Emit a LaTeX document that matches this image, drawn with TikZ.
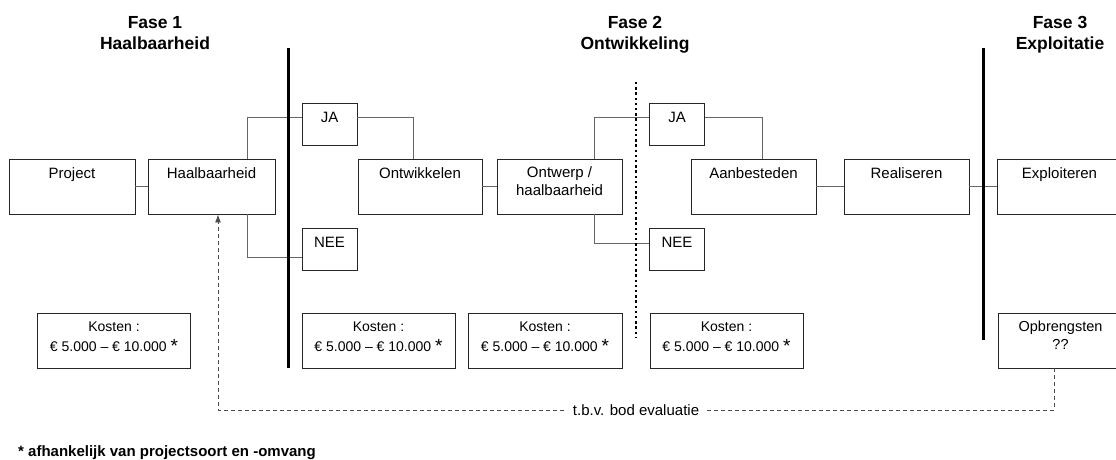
\documentclass[tikz,border=0pt]{standalone}
\usepackage{fontspec}
\setmainfont{Liberation Sans}
\usetikzlibrary{arrows.meta}
\newcommand{\bigast}{{\fontsize{19}{19}\selectfont\raisebox{-1pt}{*}}}
\tikzset{
  box/.style={draw=black!85, line width=0.9pt, minimum height=55pt, inner sep=0pt},
  smallbox/.style={draw=black!85, line width=0.9pt, minimum width=55pt, minimum height=42pt, inner sep=0pt},
  btext/.style={anchor=north, inner sep=0pt, align=center, font=\fontsize{15}{18}\selectfont},
  ktext/.style={anchor=north, inner sep=0pt, align=center, font=\fontsize{14}{20}\selectfont},
  ttl/.style={anchor=north, inner sep=0pt, align=center, font=\bfseries\fontsize{17.5}{21}\selectfont},
  conn/.style={draw=black!60, line width=0.9pt},
  phase/.style={line width=3pt, black},
  eval/.style={draw=black!70, line width=0.9pt, dash pattern=on 4pt off 3pt},
}
\begin{document}
\begin{tikzpicture}[x=1pt,y=-1pt]
\useasboundingbox (0,0) rectangle (1116,460);
\clip (0,0) rectangle (1116,460);
\fill[white] (0,0) rectangle (1116,460);

% titles
\node[ttl] (t1) at (155,13.3) {\strut Fase 1\\Haalbaarheid};
\node[ttl] (t2) at (635,13.3) {\strut Fase 2\\Ontwikkeling};
\node[ttl] (t3) at (1060,13.3) {\strut Fase 3\\Exploitatie};

% phase lines
\coordinate (p1a) at (288,48); \coordinate (p1b) at (288,368);
\coordinate (p2a) at (983,48); \coordinate (p2b) at (983,340);
\coordinate (dta) at (636,82); \coordinate (dtb) at (636,338);

% main boxes
\node[box, minimum width=126pt] (proj) at (72,186.5) {};
\node[box, minimum width=127pt] (haal) at (211.5,186.5) {};
\node[smallbox] (ja1) at (329.5,124) {};
\node[smallbox] (nee1) at (329.5,249) {};
\node[box, minimum width=124pt] (ontw) at (420,186.5) {};
\node[box, minimum width=125pt] (ontp) at (559.5,186.5) {};
\node[smallbox] (ja2) at (677,124) {};
\node[smallbox] (nee2) at (677,249) {};
\node[box, minimum width=125pt] (aanb) at (753.5,186.5) {};
\node[box, minimum width=125pt] (real) at (906.5,186.5) {};
\node[box, minimum width=125pt] (expl) at (1059.5,186.5) {};

% kosten boxes
\node[box, minimum width=153pt] (k1) at (114,340.5) {};
\node[box, minimum width=153pt] (k2) at (378.5,340.5) {};
\node[box, minimum width=154pt] (k3) at (545,340.5) {};
\node[box, minimum width=153pt] (k4) at (726.5,340.5) {};
\node[box, minimum width=125pt] (opb) at (1060.5,340.5) {};

% texts
\node[btext] (projt) at ([yshift=-7.4pt]proj.north) {\strut Project};
\node[btext] (haalt) at ([yshift=-7.4pt]haal.north) {\strut Haalbaarheid};
\node[btext] (ja1t) at ([yshift=-7.4pt]ja1.north) {\strut JA};
\node[btext] (nee1t) at ([yshift=-7.4pt]nee1.north) {\strut NEE};
\node[btext] (ontwt) at ([yshift=-7.4pt]ontw.north) {\strut Ontwikkelen};
\node[btext] (ontpt) at ([yshift=-6.4pt]ontp.north) {\strut Ontwerp /\\haalbaarheid};
\node[btext] (ja2t) at ([yshift=-7.4pt]ja2.north) {\strut JA};
\node[btext] (nee2t) at ([yshift=-7.4pt]nee2.north) {\strut NEE};
\node[btext] (aanbt) at ([yshift=-7.4pt]aanb.north) {\strut Aanbesteden};
\node[btext] (realt) at ([yshift=-7.4pt]real.north) {\strut Realiseren};
\node[btext] (explt) at ([yshift=-7.4pt]expl.north) {\strut Exploiteren};

\node[ktext] (k1t) at ([yshift=-5pt]k1.north) {\strut Kosten :\\€ 5.000 – € 10.000 \bigast};
\node[ktext] (k2t) at ([yshift=-5pt]k2.north) {\strut Kosten :\\€ 5.000 – € 10.000 \bigast};
\node[ktext] (k3t) at ([yshift=-5pt]k3.north) {\strut Kosten :\\€ 5.000 – € 10.000 \bigast};
\node[ktext] (k4t) at ([yshift=-5pt]k4.north) {\strut Kosten :\\€ 5.000 – € 10.000 \bigast};
\node[ktext, font=\fontsize{14.5}{18}\selectfont] (opbt) at ([yshift=-6pt]opb.north) {\strut Opbrengsten\\??};

% connectors
\draw[conn] (proj.east) -- (haal.west);
\draw[conn] ([xshift=35.5pt]haal.north) |- ([yshift=7pt]ja1.west);
\draw[conn] ([xshift=35.5pt]haal.south) |- ([yshift=-8pt]nee1.west);
\draw[conn] ([yshift=7pt]ja1.east) -| ([xshift=-7pt]ontw.north);
\draw[conn] (ontw.east) -- (ontp.west);
\draw[conn] ([xshift=34.5pt]ontp.north) |- ([yshift=7pt]ja2.west);
\draw[conn] ([xshift=34.5pt]ontp.south) |- ([yshift=6pt]nee2.west);
\draw[conn] ([yshift=7pt]ja2.east) -| ([xshift=8.5pt]aanb.north);
\draw[conn] (aanb.east) -- (real.west);
\draw[conn] (real.east) -- (expl.west);

% phase separators
\draw[phase] (p1a) -- (p1b);
\draw[phase] (p2a) -- (p2b);
\draw[line width=2.6pt, dash pattern=on 2.4pt off 2.8pt] (dta) -- (dtb);

% evaluation loop
\coordinate (e2) at (218,410);
\draw[eval, -{Latex[length=8pt,width=6pt]}] ([xshift=-6.5pt]opb.south) |- (e2) -- ([xshift=6.5pt]haal.south);
\node[fill=white, inner xsep=6pt, inner ysep=1pt, font=\fontsize{15}{18}\selectfont] (evl) at (636,410) {t.b.v. bod evaluatie};

% footnote
\node[anchor=base west, inner sep=0pt, font=\bfseries\fontsize{15}{18}\selectfont] (fn) at (18,456) {* afhankelijk van projectsoort en -omvang};
\end{tikzpicture}
\end{document}
